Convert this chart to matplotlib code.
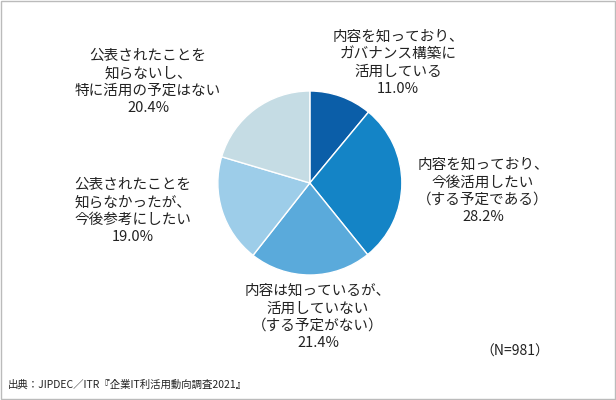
import matplotlib
matplotlib.use("Agg")
import matplotlib.pyplot as plt
from matplotlib.patches import Rectangle

labels = ["内容を知っており、\nガバナンス構築に\n活用している",
          "内容を知っており、\n今後活用したい\n（する予定である）",
          "内容は知っているが、\n活用していない\n（する予定がない）",
          "公表されたことを\n知らなかったが、\n今後参考にしたい",
          "公表されたことを\n知らないし、\n特に活用の予定はない"]
values = [11.0, 28.2, 21.4, 19.0, 20.4]
colors = ["#0b5ea8", "#1484c6", "#5aaadb", "#9dcde9", "#c5dce4"]
label_pos = [(398, 63), (483, 191), (318, 317), (133, 211), (148, 82)]

plt.rcParams["font.family"] = "Noto Sans CJK JP"
fig = plt.figure(figsize=(6.16, 4.0), dpi=100)
fig.patches.append(Rectangle((0.002, 0.002), 0.996, 0.996, transform=fig.transFigure,
                             fill=False, edgecolor="#bbbbbb", linewidth=1))
ax = fig.add_axes([0.503 - 0.1494, 0.5425 - 0.23, 0.2988, 0.46])
ax.pie(values, colors=colors, startangle=90, counterclock=False,
       wedgeprops=dict(edgecolor="white", linewidth=1))
ax.set_xlim(-1, 1)
ax.set_ylim(-1, 1)
ax.set_aspect("equal")
for lab, v, (x, y) in zip(labels, values, label_pos):
    fig.text(x / 616, 1 - y / 400, f"{lab}\n{v:.1f}%", ha="center", va="center",
             fontsize=10.5, linespacing=1.3, color="#222222")
fig.text(515 / 616, 1 - 352 / 400, "（N=981）", ha="center", va="center", fontsize=10, color="#222222")
fig.text(8 / 616, 1 - 385 / 400, "出典：JIPDEC／ITR『企業IT利活用動向調査2021』", ha="left", va="center",
         fontsize=7.5, color="#222222")
fig.savefig("out.png", dpi=100)
